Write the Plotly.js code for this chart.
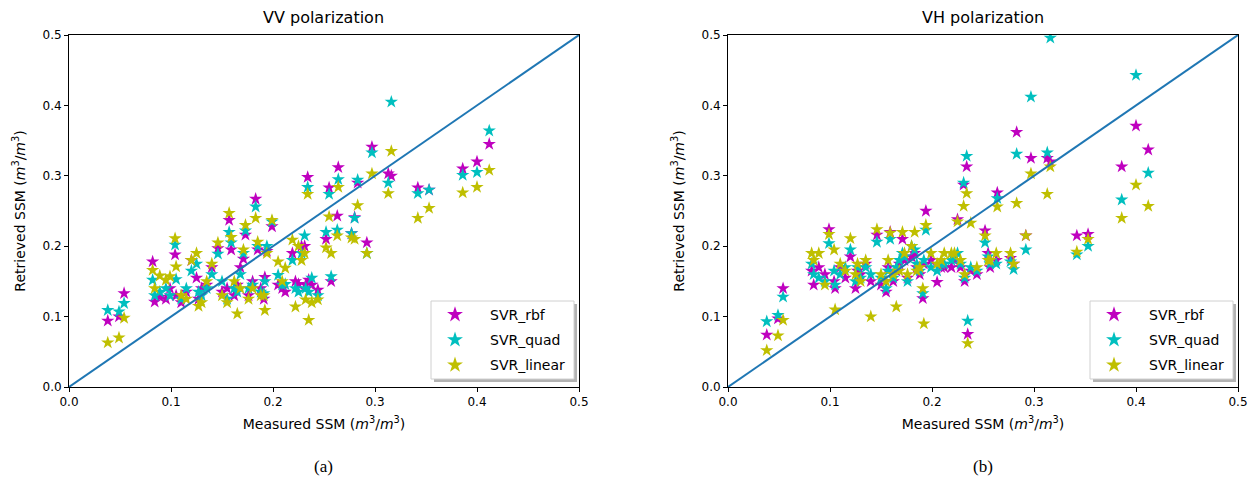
<!DOCTYPE html>
<html>
<head>
<meta charset="utf-8">
<script src="https://cdn.plot.ly/plotly-3.0.1.min.js"></script>
<style>html,body{margin:0;padding:0;background:#fff;}#chart{width:1259px;height:482px;}</style>
</head>
<body>
<div id="chart"></div>
<script>
// Measured SSM (shared by both panels)
const measured = [0.038,0.049,0.054,0.082,0.084,0.089,0.095,0.099,0.104,0.105,0.110,0.115,0.120,0.125,0.127,0.130,0.135,0.140,0.146,0.150,0.155,0.157,0.159,0.162,0.165,0.168,0.171,0.173,0.176,0.180,0.183,0.185,0.188,0.191,0.192,0.194,0.199,0.205,0.209,0.212,0.219,0.222,0.225,0.228,0.231,0.232,0.234,0.235,0.238,0.244,0.252,0.255,0.257,0.263,0.264,0.277,0.280,0.283,0.292,0.297,0.313,0.316,0.342,0.353,0.386,0.400,0.412];

// VV polarization retrieved SSM
const vvRbf = [0.094,0.100,0.133,0.178,0.121,0.128,0.125,0.140,0.188,0.130,0.120,0.135,0.180,0.155,0.125,0.140,0.145,0.170,0.197,0.135,0.140,0.237,0.195,0.130,0.145,0.170,0.182,0.216,0.130,0.150,0.267,0.195,0.140,0.125,0.156,0.193,0.228,0.145,0.140,0.135,0.190,0.150,0.146,0.200,0.200,0.145,0.298,0.152,0.145,0.138,0.210,0.283,0.150,0.243,0.312,0.218,0.241,0.290,0.205,0.341,0.303,0.300,0.283,0.280,0.310,0.320,0.345];
const vvQuad = [0.109,0.107,0.119,0.152,0.130,0.135,0.140,0.130,0.202,0.153,0.125,0.140,0.165,0.175,0.135,0.130,0.140,0.160,0.189,0.150,0.125,0.220,0.205,0.140,0.135,0.160,0.190,0.222,0.140,0.145,0.256,0.200,0.135,0.133,0.150,0.200,0.235,0.159,0.145,0.146,0.180,0.140,0.135,0.190,0.215,0.140,0.284,0.135,0.155,0.130,0.220,0.274,0.157,0.223,0.295,0.218,0.240,0.294,0.190,0.333,0.290,0.405,0.275,0.280,0.301,0.305,0.364];
const vvLinear = [0.063,0.070,0.098,0.166,0.140,0.158,0.152,0.157,0.211,0.171,0.130,0.125,0.180,0.190,0.115,0.120,0.150,0.175,0.205,0.130,0.120,0.247,0.213,0.150,0.104,0.140,0.195,0.230,0.125,0.140,0.240,0.206,0.130,0.130,0.109,0.190,0.237,0.178,0.150,0.169,0.209,0.114,0.200,0.180,0.190,0.124,0.274,0.095,0.120,0.124,0.198,0.242,0.190,0.215,0.284,0.212,0.210,0.258,0.190,0.303,0.275,0.335,0.240,0.254,0.276,0.284,0.308];

// VH polarization retrieved SSM
const vhRbf = [0.074,0.097,0.140,0.165,0.145,0.170,0.160,0.224,0.150,0.140,0.170,0.155,0.185,0.140,0.165,0.160,0.175,0.150,0.216,0.145,0.135,0.170,0.220,0.150,0.165,0.175,0.210,0.180,0.155,0.185,0.190,0.170,0.160,0.126,0.175,0.250,0.180,0.149,0.170,0.170,0.170,0.180,0.238,0.170,0.287,0.150,0.313,0.075,0.165,0.160,0.222,0.190,0.170,0.180,0.276,0.183,0.175,0.362,0.215,0.325,0.325,0.320,0.215,0.217,0.313,0.371,0.337];
const vhQuad = [0.093,0.102,0.128,0.175,0.160,0.155,0.150,0.204,0.165,0.145,0.160,0.170,0.195,0.150,0.170,0.155,0.170,0.160,0.206,0.155,0.140,0.165,0.210,0.155,0.170,0.180,0.190,0.185,0.150,0.200,0.195,0.175,0.165,0.133,0.180,0.223,0.170,0.165,0.175,0.175,0.180,0.185,0.190,0.175,0.290,0.155,0.328,0.094,0.170,0.165,0.205,0.185,0.175,0.175,0.268,0.178,0.167,0.331,0.195,0.412,0.333,0.496,0.188,0.200,0.266,0.443,0.304];
const vhLinear = [0.052,0.073,0.095,0.190,0.180,0.190,0.145,0.217,0.195,0.110,0.175,0.165,0.211,0.160,0.175,0.150,0.180,0.100,0.224,0.160,0.150,0.180,0.219,0.160,0.114,0.165,0.220,0.190,0.160,0.200,0.220,0.165,0.170,0.140,0.090,0.230,0.190,0.175,0.180,0.190,0.190,0.190,0.235,0.180,0.257,0.160,0.275,0.062,0.233,0.170,0.215,0.180,0.180,0.190,0.256,0.190,0.175,0.261,0.215,0.303,0.274,0.313,0.192,0.210,0.240,0.287,0.257];

// 1:1 reference line
const lineX = [0, 0.5];
const lineY = [0, 0.5];

const seriesNames = ['SVR_rbf', 'SVR_quad', 'SVR_linear'];
const tickVals = [0, 0.1, 0.2, 0.3, 0.4, 0.5];
const tickText = ['0.0', '0.1', '0.2', '0.3', '0.4', '0.5'];
const panelTitles = ['VV polarization', 'VH polarization'];
const captions = ['(a)', '(b)'];

const colors = ['#bf00bf', '#00bfbf', '#bfbf00'];
const W = 1259, H = 482;

function mk(y, i, xa, ya, leg) {
  return {x: measured, y: y, type: 'scatter', mode: 'markers', name: seriesNames[i],
    xaxis: xa, yaxis: ya, legend: leg, legendgroup: leg + i, showlegend: true,
    marker: {symbol: 'star', size: 10, color: colors[i], line: {width: 0}}};
}

const traces = [
  mk(vvRbf, 0, 'x', 'y', 'legend'),
  mk(vvQuad, 1, 'x', 'y', 'legend'),
  mk(vvLinear, 2, 'x', 'y', 'legend'),
  {x: lineX, y: lineY, type: 'scatter', mode: 'lines', xaxis: 'x', yaxis: 'y', showlegend: false,
   line: {color: '#1f77b4', width: 2}, hoverinfo: 'skip'},
  mk(vhRbf, 0, 'x2', 'y2', 'legend2'),
  mk(vhQuad, 1, 'x2', 'y2', 'legend2'),
  mk(vhLinear, 2, 'x2', 'y2', 'legend2'),
  {x: lineX, y: lineY, type: 'scatter', mode: 'lines', xaxis: 'x2', yaxis: 'y2', showlegend: false,
   line: {color: '#1f77b4', width: 2}, hoverinfo: 'skip'}
];

const px = v => v / W;
const py = v => 1 - v / H;

const font = {family: 'DejaVu Sans, sans-serif', size: 12, color: '#000'};
const axisTitleX = 'Measured SSM (<i>m</i><sup>3</sup>/<i>m</i><sup>3</sup>)';
const axisTitleY = 'Retrieved SSM (<i>m</i><sup>3</sup>/<i>m</i><sup>3</sup>)';

function xax(dom, anchor) {
  return {domain: dom, anchor: anchor, range: [0, 0.5], tickvals: tickVals, ticktext: tickText,
    showgrid: false, zeroline: false, showline: true, mirror: true, linecolor: '#000', linewidth: 1,
    ticks: 'outside', ticklen: 4, tickcolor: '#000', tickfont: {size: 12},
    title: {text: axisTitleX, font: {size: 14}, standoff: 10}, fixedrange: true};
}
function yax(anchor) {
  return {domain: [py(387), py(35)], anchor: anchor, range: [0, 0.5], tickvals: tickVals, ticktext: tickText,
    showgrid: false, zeroline: false, showline: true, mirror: true, linecolor: '#000', linewidth: 1,
    ticks: 'outside', ticklen: 4, tickcolor: '#000', tickfont: {size: 12},
    title: {text: axisTitleY, font: {size: 14}, standoff: 13}, fixedrange: true};
}

const legendCommon = {bgcolor: 'rgba(0,0,0,0)', borderwidth: 0,
  font: {size: 14, family: 'DejaVu Sans, sans-serif'}, xanchor: 'left', yanchor: 'top',
  itemsizing: 'constant', itemwidth: 60, traceorder: 'grouped', tracegroupgap: 4};

function legendBox(x0, y0, x1, y1) {
  return [
    {type: 'rect', xref: 'paper', yref: 'paper', x0: px(x0 + 3), x1: px(x1 + 3), y0: py(y1 + 3), y1: py(y0 + 3),
     fillcolor: '#b3b3b3', line: {width: 0}, layer: 'above'},
    {type: 'rect', xref: 'paper', yref: 'paper', x0: px(x0), x1: px(x1), y0: py(y1), y1: py(y0),
     fillcolor: '#ffffff', line: {width: 1, color: '#d0d0d0'}, layer: 'above'}
  ];
}

const shapes = [].concat(legendBox(431, 301, 574, 379), legendBox(1090, 301, 1233, 379));

const annotations = [
  {text: panelTitles[0], xref: 'paper', yref: 'paper', x: px(324), y: py(18), showarrow: false,
   font: {size: 16}, xanchor: 'center', yanchor: 'middle'},
  {text: panelTitles[1], xref: 'paper', yref: 'paper', x: px(983), y: py(18), showarrow: false,
   font: {size: 16}, xanchor: 'center', yanchor: 'middle'},
  {text: captions[0], xref: 'paper', yref: 'paper', x: px(324), y: py(466), showarrow: false,
   font: {size: 17, family: 'Liberation Serif, serif'}, xanchor: 'center', yanchor: 'middle'},
  {text: captions[1], xref: 'paper', yref: 'paper', x: px(983), y: py(466), showarrow: false,
   font: {size: 17, family: 'Liberation Serif, serif'}, xanchor: 'center', yanchor: 'middle'}
];

const layout = {
  width: W, height: H, margin: {l: 0, r: 0, t: 0, b: 0},
  paper_bgcolor: '#fff', plot_bgcolor: '#fff', font: font,
  xaxis: xax([px(69), px(579)], 'y'), yaxis: yax('x'),
  xaxis2: xax([px(728), px(1238)], 'y2'), yaxis2: yax('x2'),
  legend: Object.assign({x: px(420), y: py(299)}, legendCommon),
  legend2: Object.assign({x: px(1079), y: py(299)}, legendCommon),
  shapes: shapes, annotations: annotations
};

Plotly.newPlot('chart', traces, layout, {displayModeBar: false, staticPlot: true});
</script>
</body>
</html>
